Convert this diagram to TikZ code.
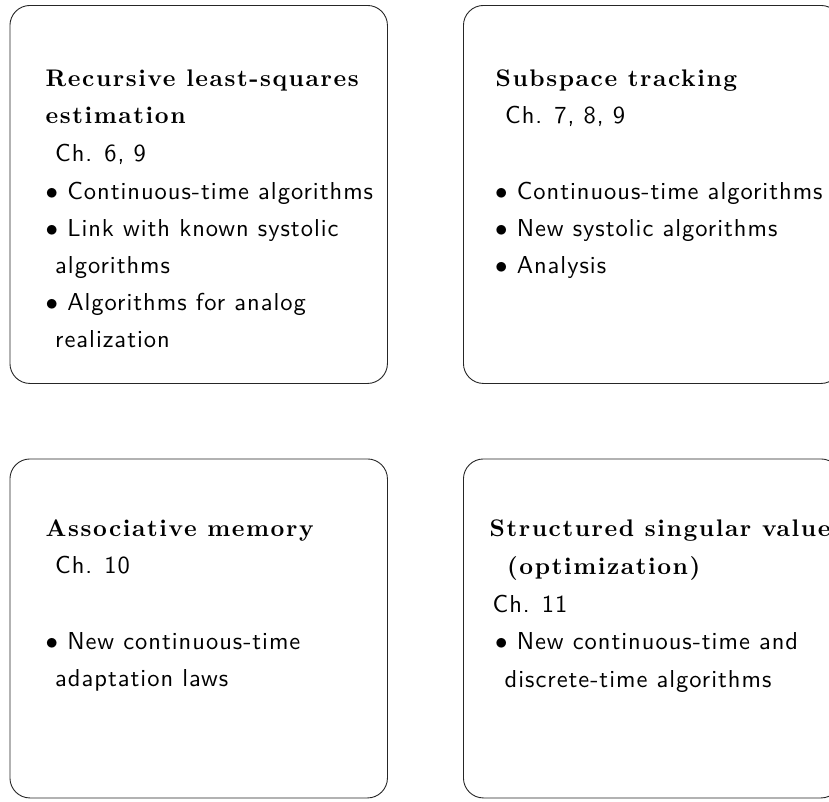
\documentclass[tikz,border=0pt]{standalone}
\usepackage{fontspec}
\newfontfamily\titlefont{lmroman10-bold.otf}[LetterSpace=6.5]
\newfontfamily\bodyfont{lmsans10-regular.otf}[LetterSpace=4]
\begin{document}
\begin{tikzpicture}[x=1pt,y=-1pt,
  panel/.style={draw=black!85, line width=0.9pt, rounded corners=20pt, anchor=north west, inner sep=0pt, minimum width=377.5pt},
  ttl/.style={anchor=base west, inner sep=0pt, font=\titlefont\fontsize{24pt}{28pt}\selectfont},
  txt/.style={anchor=base west, inner sep=0pt, font=\bodyfont\fontsize{24.5pt}{30pt}\selectfont}]
\useasboundingbox (0,0) rectangle (829,801);
% panels
\node[panel, minimum height=378pt] (tl) at (9.5,5) {};
\node[panel, minimum height=378pt] (tr) at (463,5) {};
\node[panel, minimum height=339pt] (bl) at (9.5,458.5) {};
\node[panel, minimum height=339pt] (br) at (463,458.5) {};
% top left
\node[ttl] (tl1) at (45.5,86) {Recursive least-squares};
\node[ttl] (tl2) at (45.5,123.5) {estimation};
\node[txt] (tl3) at (55,161.5) {Ch. 6, 9};
\node[txt] (tl4) at (45.5,199) {$\bullet$ Continuous-time algorithms};
\node[txt] (tl5) at (45.5,236.5) {$\bullet$ Link with known systolic};
\node[txt] (tl6) at (55,273.5) {algorithms};
\node[txt] (tl7) at (45.5,310.5) {$\bullet$ Algorithms for analog};
\node[txt] (tl8) at (55,347.5) {realization};
% top right
\node[ttl] (tr1) at (495.5,86) {Subspace tracking};
\node[txt] (tr2) at (505,123) {Ch. 7, 8, 9};
\node[txt] (tr3) at (495,199) {$\bullet$ Continuous-time algorithms};
\node[txt] (tr4) at (495,236.5) {$\bullet$ New systolic algorithms};
\node[txt] (tr5) at (495,273.5) {$\bullet$ Analysis};
% bottom left
\node[ttl] (bl1) at (45.5,536.5) {Associative memory};
\node[txt] (bl2) at (55,573.5) {Ch. 10};
\node[txt] (bl3) at (45.5,649) {$\bullet$ New continuous-time};
\node[txt] (bl4) at (55,686) {adaptation laws};
% bottom right
\node[ttl] (br1) at (489.5,536) {Structured singular value};
\node[ttl] (br2) at (507,574) {(optimization)};
\node[txt] (br3) at (492.5,612) {Ch. 11};
\node[txt] (br4) at (495,649) {$\bullet$ New continuous-time and};
\node[txt] (br5) at (504.5,687) {discrete-time algorithms};
\end{tikzpicture}
\end{document}
